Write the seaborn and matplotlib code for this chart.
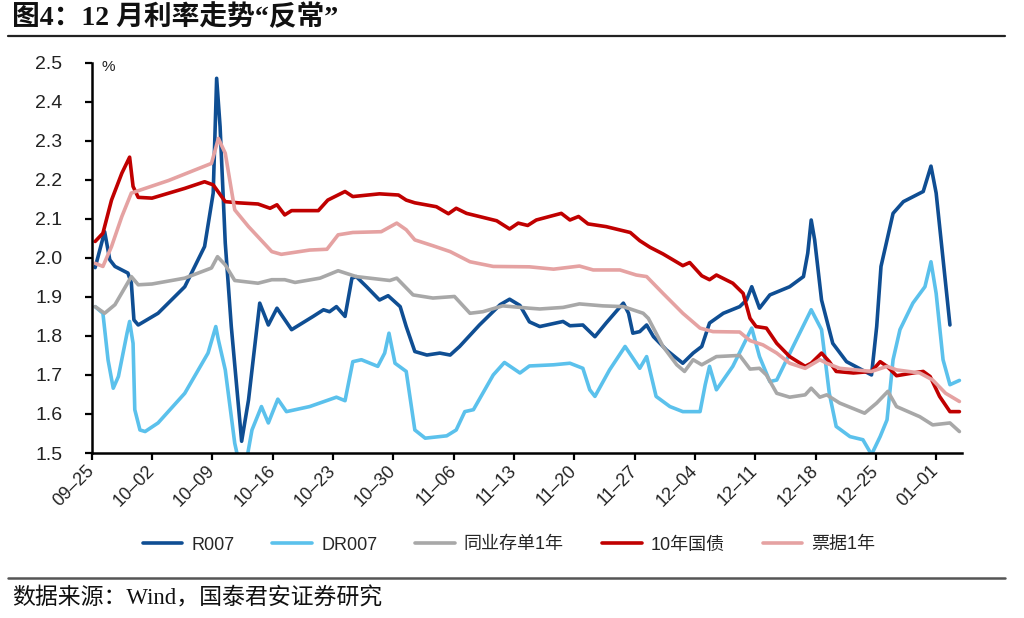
import numpy as np
import pandas as pd
import matplotlib
matplotlib.use("Agg")
import matplotlib.pyplot as plt
import matplotlib.transforms as mtransforms
from matplotlib.lines import Line2D
import seaborn as sns

# ---------------- data ----------------
start_date = "2023-09-25"
series_names = ["R007", "DR007", "同业存单1年", "10年国债", "票据1年"]
series_colors = ["#0F4E93", "#5BC1EC", "#A8A8A8", "#C00000", "#E5A2A2"]

r007_days = [0.4, 1.5, 2.1, 2.7, 4.2, 4.6, 4.9, 5.4, 7.7, 10.8, 13.1, 14.1, 14.5, 14.9,
             15.5, 16.2, 17.4, 18.2, 19.5, 20.5, 21.5, 23.2, 25.7, 26.9, 27.6, 28.4,
             29.4, 30.2, 30.7, 31.9, 33.4, 34.4, 35.8, 36.5, 37.5, 38.9, 40.4, 41.6,
             42.7, 45.0, 47.4, 48.5, 49.7, 50.8, 52.0, 54.7, 55.5, 57.0, 58.4, 59.7,
             61.7, 62.3, 62.8, 63.6, 64.4, 65.2, 66.7, 68.6, 69.8, 70.8, 71.7, 73.3,
             75.2, 76.0, 76.6, 77.5, 78.7, 81.0, 82.6, 83.1, 83.5, 83.9, 84.7, 86.0,
             87.6, 90.5, 91.1, 91.6, 93.0, 94.2, 96.5, 97.4, 98.0, 99.6]
r007_vals = [1.975, 2.067, 1.995, 1.978, 1.961, 1.936, 1.841, 1.828, 1.858, 1.926, 2.029,
             2.166, 2.460, 2.336, 2.038, 1.824, 1.530, 1.636, 1.884, 1.828, 1.871, 1.816,
             1.850, 1.867, 1.862, 1.875, 1.850, 1.948, 1.952, 1.926, 1.892, 1.903, 1.875,
             1.824, 1.760, 1.751, 1.756, 1.751, 1.773, 1.828, 1.880, 1.894, 1.878, 1.836,
             1.824, 1.837, 1.826, 1.828, 1.798, 1.833, 1.884, 1.858, 1.807, 1.811, 1.828,
             1.798, 1.764, 1.730, 1.756, 1.773, 1.833, 1.858, 1.875, 1.892, 1.926, 1.871,
             1.905, 1.926, 1.952, 2.012, 2.097, 2.046, 1.892, 1.781, 1.734, 1.700, 1.824,
             1.978, 2.114, 2.144, 2.170, 2.235, 2.166, 1.828]

dr007_days = [0.4, 1.3, 1.9, 2.5, 3.1, 4.1, 4.4, 4.8, 5.0, 5.6, 6.2, 7.7, 10.8, 13.5,
              14.4, 14.7, 15.5, 16.6, 17.0, 18.0, 18.6, 19.7, 20.5, 21.6, 22.6, 25.3,
              28.4, 29.4, 30.3, 31.3, 33.2, 34.0, 34.5, 35.2, 36.5, 37.5, 38.7, 41.2,
              42.3, 43.3, 44.3, 46.6, 47.9, 49.7, 50.8, 53.6, 55.5, 57.0, 57.8, 58.4,
              60.1, 61.9, 63.6, 64.4, 65.5, 67.1, 68.6, 70.6, 71.2, 71.7, 72.5, 74.4,
              76.6, 77.5, 78.7, 79.5, 81.4, 83.5, 84.7, 85.6, 86.4, 88.0, 89.5, 90.5,
              91.5, 92.3, 93.0, 93.8, 95.3, 96.7, 97.4, 98.0, 98.8, 99.6, 100.7]
dr007_vals = [1.875, 1.858, 1.738, 1.666, 1.696, 1.807, 1.837, 1.781, 1.611, 1.559, 1.555,
              1.577, 1.653, 1.756, 1.824, 1.790, 1.713, 1.525, 1.485, 1.485, 1.559, 1.619,
              1.577, 1.638, 1.606, 1.619, 1.643, 1.634, 1.734, 1.739, 1.722, 1.756, 1.807,
              1.730, 1.709, 1.559, 1.538, 1.544, 1.559, 1.606, 1.611, 1.700, 1.732, 1.705,
              1.723, 1.726, 1.730, 1.717, 1.662, 1.645, 1.713, 1.773, 1.717, 1.747, 1.645,
              1.619, 1.606, 1.606, 1.675, 1.722, 1.662, 1.722, 1.820, 1.747, 1.683, 1.687,
              1.773, 1.867, 1.816, 1.653, 1.568, 1.542, 1.534, 1.496, 1.542, 1.585, 1.739,
              1.816, 1.884, 1.926, 1.990, 1.909, 1.739, 1.675, 1.686]

ncd_days = [0.4, 1.5, 2.7, 4.6, 5.4, 7.0, 10.8, 13.9, 14.6, 15.5, 16.6, 19.3, 20.9, 22.4,
            23.6, 26.5, 28.6, 30.7, 34.6, 35.4, 37.3, 39.6, 42.1, 43.9, 45.4, 47.7, 50.8,
            52.0, 54.7, 56.6, 59.3, 61.7, 64.0, 64.6, 66.3, 67.9, 68.8, 69.8, 70.8, 72.5,
            75.2, 76.4, 77.5, 78.3, 79.5, 81.0, 82.8, 83.5, 84.5, 85.3, 86.8, 89.7, 91.1,
            92.4, 93.4, 96.1, 97.6, 99.6, 100.7]
ncd_vals = [1.875, 1.858, 1.880, 1.952, 1.931, 1.933, 1.948, 1.974, 2.003, 1.982, 1.942,
            1.935, 1.944, 1.944, 1.937, 1.948, 1.967, 1.952, 1.942, 1.948, 1.905, 1.897,
            1.901, 1.858, 1.862, 1.877, 1.871, 1.869, 1.873, 1.882, 1.877, 1.875, 1.858,
            1.845, 1.773, 1.726, 1.709, 1.739, 1.726, 1.747, 1.750, 1.715, 1.717, 1.700,
            1.653, 1.643, 1.649, 1.666, 1.643, 1.649, 1.628, 1.602, 1.628, 1.658, 1.619,
            1.593, 1.572, 1.577, 1.555]

cgb10_days = [0.4, 1.3, 2.3, 3.5, 4.4, 4.8, 5.4, 7.0, 10.8, 13.1, 14.1, 15.5, 17.0, 19.3,
              20.7, 21.5, 22.4, 23.2, 26.3, 27.4, 28.4, 29.4, 30.3, 33.4, 35.6, 36.5,
              37.5, 40.0, 41.4, 42.3, 43.5, 47.0, 48.5, 49.5, 50.6, 51.6, 54.5, 55.5,
              56.5, 57.6, 59.7, 62.5, 63.6, 64.8, 66.3, 68.6, 69.4, 70.8, 71.7, 72.5,
              74.4, 75.6, 76.4, 77.1, 78.3, 79.5, 81.0, 82.8, 83.5, 84.7, 85.6, 86.4,
              88.4, 90.5, 91.5, 92.3, 93.4, 95.3, 96.5, 97.3, 98.4, 99.6, 100.7]
cgb10_vals = [2.042, 2.063, 2.148, 2.217, 2.258, 2.183, 2.155, 2.153, 2.178, 2.195, 2.187,
              2.144, 2.141, 2.138, 2.127, 2.136, 2.110, 2.121, 2.121, 2.148, 2.159, 2.170,
              2.157, 2.164, 2.161, 2.148, 2.141, 2.131, 2.113, 2.127, 2.114, 2.095, 2.074,
              2.089, 2.083, 2.097, 2.114, 2.097, 2.106, 2.087, 2.080, 2.065, 2.044, 2.027,
              2.010, 1.980, 1.988, 1.954, 1.944, 1.956, 1.935, 1.909, 1.845, 1.824, 1.820,
              1.781, 1.747, 1.722, 1.730, 1.756, 1.734, 1.709, 1.705, 1.709, 1.734, 1.722,
              1.698, 1.705, 1.709, 1.696, 1.645, 1.606, 1.606]

bill_days = [0.4, 1.3, 2.3, 3.5, 4.6, 5.4, 8.9, 13.9, 14.7, 15.5, 16.6, 18.2, 20.9, 22.0,
             25.3, 27.3, 28.6, 30.3, 33.6, 35.4, 36.5, 37.5, 39.6, 41.6, 43.9, 46.6, 50.8,
             53.6, 56.6, 58.2, 61.3, 63.2, 64.4, 66.3, 68.6, 70.6, 72.1, 75.2, 76.4, 77.9,
             79.5, 81.0, 82.8, 84.5, 85.3, 86.8, 90.5, 92.3, 93.4, 96.1, 97.6, 99.1, 100.7]
bill_vals = [1.986, 1.978, 2.029, 2.106, 2.166, 2.172, 2.198, 2.242, 2.306, 2.268, 2.123,
             2.080, 2.016, 2.009, 2.020, 2.022, 2.059, 2.065, 2.067, 2.089, 2.072, 2.046,
             2.031, 2.016, 1.990, 1.978, 1.977, 1.971, 1.979, 1.969, 1.969, 1.956, 1.952,
             1.909, 1.858, 1.820, 1.811, 1.810, 1.788, 1.777, 1.756, 1.730, 1.717, 1.739,
             1.730, 1.717, 1.709, 1.722, 1.713, 1.705, 1.687, 1.653, 1.632]

tick_days = [0, 7, 14, 21, 28, 35, 42, 49, 56, 63, 70, 77, 84, 91, 98]
tick_labels = ["09–25", "10–02", "10–09", "10–16", "10–23", "10–30", "11–06", "11–13",
               "11–20", "11–27", "12–04", "12–11", "12–18", "12–25", "01–01"]
y_ticks = [1.5, 1.6, 1.7, 1.8, 1.9, 2.0, 2.1, 2.2, 2.3, 2.4, 2.5]

title_text = "图4：12 月利率走势“反常”"
source_text = "数据来源：Wind，国泰君安证券研究"

# ---------------- build long table ----------------
t0 = pd.Timestamp(start_date)
frames = []
for name, d, v in zip(series_names,
                      [r007_days, dr007_days, ncd_days, cgb10_days, bill_days],
                      [r007_vals, dr007_vals, ncd_vals, cgb10_vals, bill_vals]):
    frames.append(pd.DataFrame({
        "date": t0 + pd.to_timedelta(np.array(d), unit="D"),
        "value": v,
        "series": name,
    }))
df = pd.concat(frames, ignore_index=True)

# ---------------- style ----------------
sns.set_style("ticks")
plt.rcParams["font.family"] = ["Liberation Sans", "Noto Sans CJK SC", "DejaVu Sans"]
plt.rcParams["axes.unicode_minus"] = False

fig = plt.figure(figsize=(10.24, 6.18), dpi=100)
ax = fig.add_axes([91.7 / 1024, 1 - 453 / 618, (962 - 91.7) / 1024, (453 - 62.7) / 618])

sns.lineplot(data=df, x="date", y="value", hue="series", hue_order=series_names,
             palette=dict(zip(series_names, series_colors)), linewidth=2.6,
             estimator=None, sort=False, ax=ax)
for ln in ax.get_lines():
    ln.set_solid_joinstyle("round")
    ln.set_solid_capstyle("round")

handles, labels = ax.get_legend_handles_labels()
ax.get_legend().remove()

ax.set_xlim(t0, t0 + pd.Timedelta(days=101))
ax.set_ylim(1.5, 2.5)
ax.set_yticks(y_ticks)
ax.set_yticklabels([f"{v:.1f}" for v in y_ticks])
tick_dates = [t0 + pd.Timedelta(days=d) for d in tick_days]
ax.set_xticks(tick_dates)
ax.set_xticklabels(tick_labels, rotation=45, ha="right", va="center",
                   rotation_mode="anchor")
offset = mtransforms.ScaledTranslation(6 / 100, 0, fig.dpi_scale_trans)
for lab in ax.get_xticklabels():
    lab.set_transform(lab.get_transform() + offset)

ax.set_xlabel("")
ax.set_ylabel("")
for side in ["top", "right"]:
    ax.spines[side].set_visible(False)
for side in ["left", "bottom"]:
    ax.spines[side].set_linewidth(1.8)
    ax.spines[side].set_color("black")
ax.tick_params(axis="y", length=5, width=1.6, labelsize=14, pad=16, colors="black",
               labelcolor="#222222")
ax.tick_params(axis="x", length=5, width=1.6, labelsize=13, pad=6, colors="black",
               labelcolor="#222222")
ax.grid(False)

ax.text(0.011, 0.99, "%", transform=ax.transAxes, fontsize=11, ha="left", va="center",
        color="#222222")

fig.legend(handles, labels, loc="center", bbox_to_anchor=(0.497, 1 - 545 / 618), ncol=5,
           frameon=False, fontsize=13, handlelength=2.2, columnspacing=2.1,
           handletextpad=0.5)

# ---------------- title / source / rules ----------------
fig.text(12 / 1024, 1 - 18 / 618, title_text, fontsize=20, fontweight="bold",
         family=["Liberation Serif", "Noto Sans CJK SC"], ha="left", va="center",
         color="#111111")
fig.add_artist(Line2D([8 / 1024, 1005 / 1024], [1 - 36 / 618] * 2, color="#222222",
                      linewidth=1.6, transform=fig.transFigure))
fig.add_artist(Line2D([8 / 1024, 1005 / 1024], [1 - 578 / 618] * 2, color="#555555",
                      linewidth=1.8, transform=fig.transFigure))
fig.text(12 / 1024, 1 - 598 / 618, source_text, fontsize=16.5,
         family=["Liberation Serif", "Noto Sans CJK SC"], ha="left", va="center",
         color="#111111")

fig.savefig("out.png", dpi=100, facecolor="white")
